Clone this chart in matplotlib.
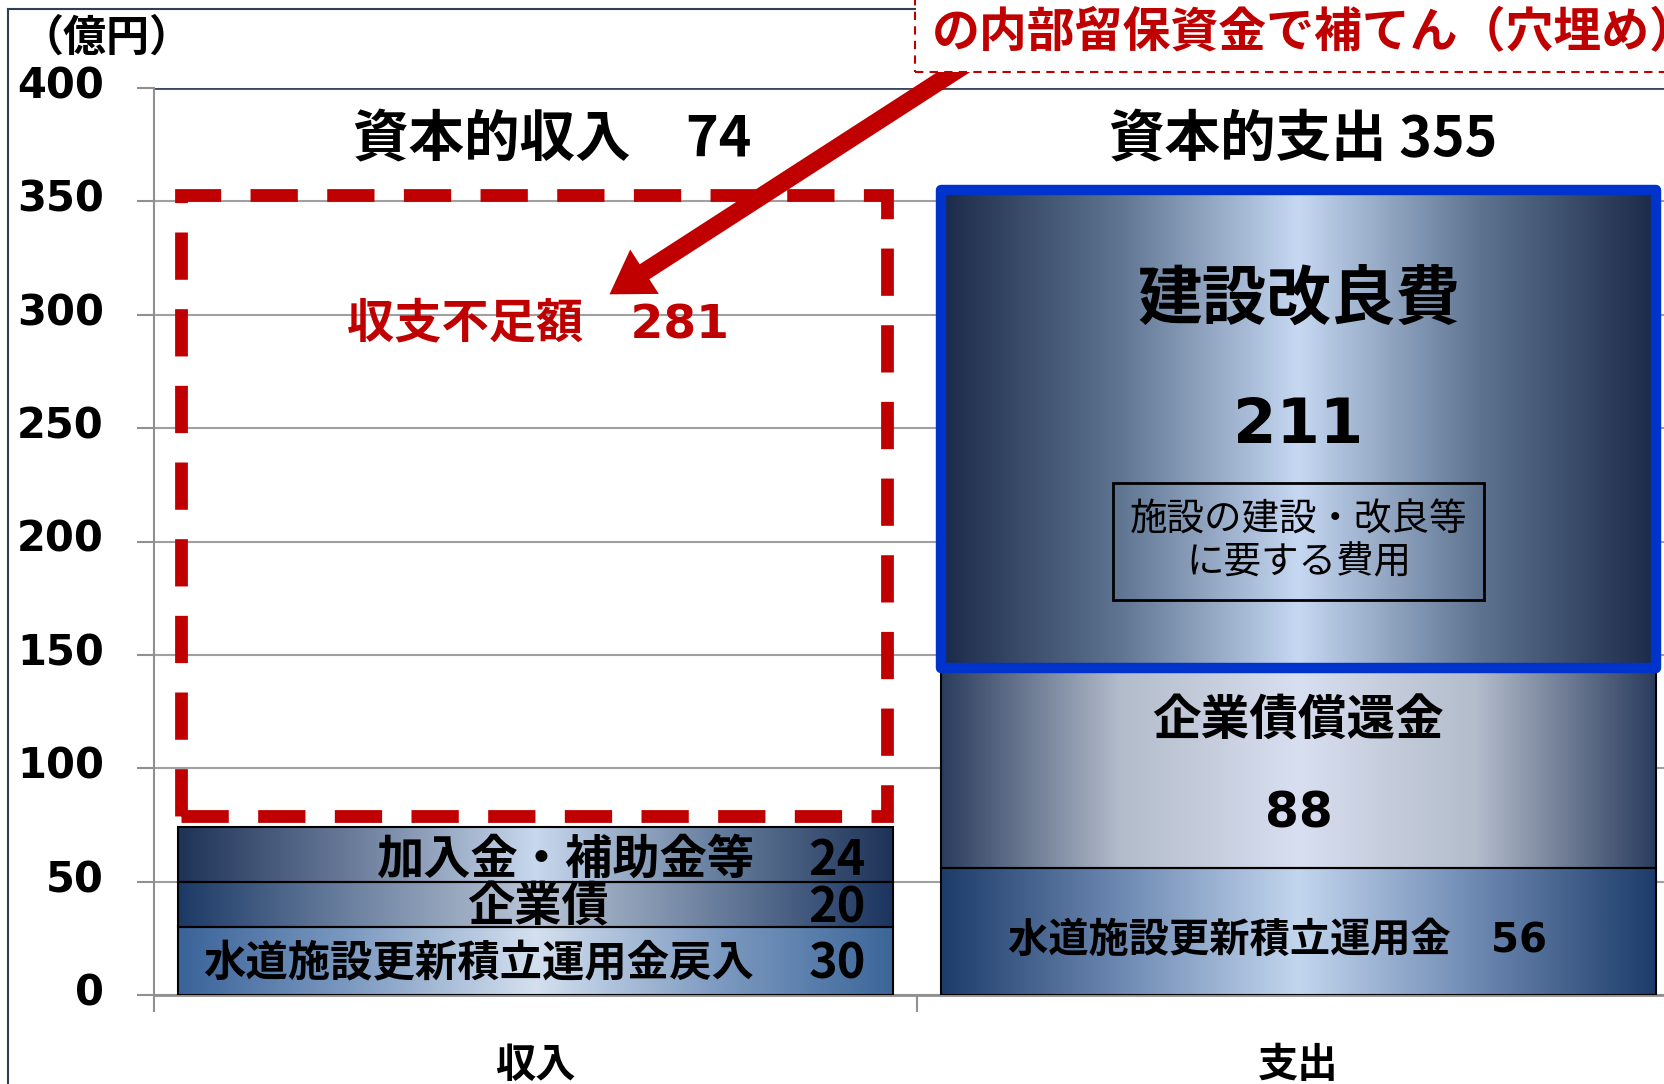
import numpy as np
import matplotlib
matplotlib.use("Agg")
import matplotlib.pyplot as plt
import matplotlib.transforms as mtransforms
from matplotlib.colors import LinearSegmentedColormap
from matplotlib.patches import Rectangle
from matplotlib.lines import Line2D

plt.rcParams['font.family'] = ['DejaVu Sans', 'Noto Sans CJK JP']
CJK = ['Noto Sans CJK JP', 'DejaVu Sans']
RED = '#c00000'

# data
categories = ['収入', '支出']
income_labels = ['水道施設更新積立運用金戻入', '企業債', '加入金・補助金等']
income_values = [30, 20, 24]
expense_labels = ['水道施設更新積立運用金', '企業債償還金', '建設改良費']
expense_values = [56, 88, 211]
expense_note = '施設の建設・改良等\nに要する費用'
callout_text = 'の内部留保資金で補てん（穴埋め）'
y_ticks = [0, 50, 100, 150, 200, 250, 300, 350, 400]

income_total = sum(income_values)
expense_total = sum(expense_values)
shortfall = expense_total - income_total

# gradient styles (edge -> centre -> edge)
income_grads = [
    ['#3a6399', '#7f9cc2', '#d4e0ef', '#7f9cc2', '#3c6699'],
    ['#1c3a66', '#6f84a2', '#b9c5d6', '#6a7f9d', '#1c3560'],
    ['#1f3358', '#6d7e9c', '#c8d8ee', '#68809f', '#1e3358'],
]
expense_grads = [
    ['#1e3c6a', '#6d89b2', '#c3d6ee', '#6d89b2', '#1e3c6a'],
    ['#2b3d5e', '#b3bccb', '#d8dff0', '#b3bccb', '#2b3d5e'],
    ['#1b2a48', '#5f7592', '#c6d8f2', '#5f7592', '#1b2a48'],
]

W, H = 1665, 1084
fig = plt.figure(figsize=(W / 100, H / 100), dpi=100)
ax = fig.add_axes([154 / W, 1 - 995 / H, 1526 / W, (995 - 88) / H])

bw = 0.937
grad = np.linspace(0, 1, 256).reshape(1, -1)


def stack(x, values, grads):
    bottom = 0
    rects = []
    for v, cols in zip(values, grads):
        r = ax.bar(x, v, bw, bottom=bottom, facecolor='none', edgecolor='black',
                   lw=1.5, zorder=3)[0]
        cm = LinearSegmentedColormap.from_list('g', cols)
        im = ax.imshow(grad, cmap=cm, aspect='auto', interpolation='bicubic',
                       extent=(x - bw / 2, x + bw / 2, bottom, bottom + v), zorder=2)
        im.set_clip_path(r)
        bottom += v
        rects.append(r)
    return rects


inc_rects = stack(0, income_values, income_grads)
exp_rects = stack(1, expense_values, expense_grads)

big = exp_rects[2]
big.set_edgecolor('#0033cc')
big.set_linewidth(7.5)
big.set_joinstyle('round')
big.set_zorder(4)

ax.set_xlim(-0.5, 1.5)
ax.set_ylim(0, 400)

# axes styling
for s in ['top', 'right']:
    ax.spines[s].set_visible(False)
ax.spines['left'].set_color('#909090')
ax.spines['left'].set_linewidth(1.5)
ax.spines['bottom'].set_color('#909090')
ax.spines['bottom'].set_linewidth(2)
ax.set_yticks(y_ticks)
ax.yaxis.grid(True, color='#a0a0a0', lw=1.5, zorder=0)
ax.set_axisbelow(True)
ax.axhline(400, color='#3a4a5e', lw=2, zorder=1)
ax.tick_params(axis='y', length=12, width=1.5, color='#909090', pad=24,
               labelsize=30)
lift = mtransforms.ScaledTranslation(0, 0.06, fig.dpi_scale_trans)
for t in ax.get_yticklabels():
    t.set_fontweight('bold')
    t.set_transform(t.get_transform() + lift)
ax.set_xticks([0, 1])
ax.set_xticklabels(categories, fontsize=29, fontweight='bold', family=CJK)
ax.tick_params(axis='x', length=0, pad=36)
ax.set_xticks([-0.5, 0.5, 1.5], minor=True)
ax.tick_params(axis='x', which='minor', length=12, width=1.5, color='#909090')

# shortfall dashed box
ax.add_patch(Rectangle((-bw / 2 + 0.004, income_total + 5), bw - 0.012, shortfall - 7,
                       fill=False, edgecolor=RED, lw=9.2, linestyle=(0, (3.7, 2.3)),
                       joinstyle='miter', zorder=3))
ax.text(0.003, 295.5, f'収支不足額　{shortfall}', color=RED, fontsize=34,
        fontweight='bold', ha='center', va='center')

# headings
ax.text(0.022, 377, f'資本的収入　{income_total}', fontsize=40, fontweight='bold',
        family=CJK, ha='center', va='center')
ax.text(1.006, 377, f'資本的支出 {expense_total}', fontsize=40, fontweight='bold',
        family=CJK, ha='center', va='center')

# income labels
ax.text(-0.075, 13.6, income_labels[0], fontsize=30.5, fontweight='bold', family=CJK,
        ha='center', va='center')
ax.text(0.003, 38.4, income_labels[1], fontsize=34, fontweight='bold', family=CJK,
        ha='center', va='center')
ax.text(0.039, 59.5, income_labels[2], fontsize=34, fontweight='bold', family=CJK,
        ha='center', va='center')
for yv, v in zip([13.6, 38.4, 59.5], income_values):
    ax.text(0.395, yv, str(v), fontsize=35, fontweight='bold', family=CJK,
            ha='center', va='center')

# expense labels
ax.text(0.973, 24, f'{expense_labels[0]}　{expense_values[0]}', fontsize=29,
        fontweight='bold', ha='center', va='center')
ax.text(1.0, 121, expense_labels[1], fontsize=35, fontweight='bold', family=CJK,
        ha='center', va='center')
ax.text(1.0, 80, str(expense_values[1]), fontsize=35, fontweight='bold',
        ha='center', va='center')
ax.text(1.0, 306, expense_labels[2], fontsize=46.5, fontweight='bold', family=CJK,
        ha='center', va='center')
ax.text(1.0, 251, str(expense_values[2]), fontsize=45, fontweight='bold',
        ha='center', va='center')
ax.text(1.0, 200, expense_note, fontsize=27, family=CJK, ha='center', va='center',
        multialignment='center', linespacing=1.15,
        bbox=dict(boxstyle='square,pad=0.45', fc='none', ec='black', lw=2))

# arrow + callout
ax.annotate('', xy=(0.097, 309), xytext=(0.585, 415), annotation_clip=False,
            arrowprops=dict(arrowstyle='simple,head_length=0.75,head_width=0.95,tail_width=0.32',
                            mutation_scale=40, fc=RED, ec='none', shrinkA=0, shrinkB=0),
            zorder=4)
ax.add_patch(Rectangle((0.497, 407), 1.2, 60, facecolor='white', edgecolor=RED, lw=1.5,
                       linestyle=(0, (4, 3)), clip_on=False, zorder=5))
ax.text(0.52, 424.5, callout_text, color=RED, fontsize=34.5, fontweight='bold', family=CJK,
        ha='left', va='center', zorder=6, clip_on=False)

# outer frame
fig.add_artist(Line2D([8.5 / W, 8.5 / W], [0, 1 - 8.5 / H], color='#2f3f55', lw=1.5))
fig.add_artist(Line2D([8.5 / W, 915 / W], [1 - 8.5 / H, 1 - 8.5 / H], color='#2f3f55', lw=1.5))
fig.text(106 / W, 1 - 38 / H, '（億円）', fontsize=31, fontweight='bold', family=CJK,
         ha='center', va='center')

fig.savefig('out.png', dpi=100)
